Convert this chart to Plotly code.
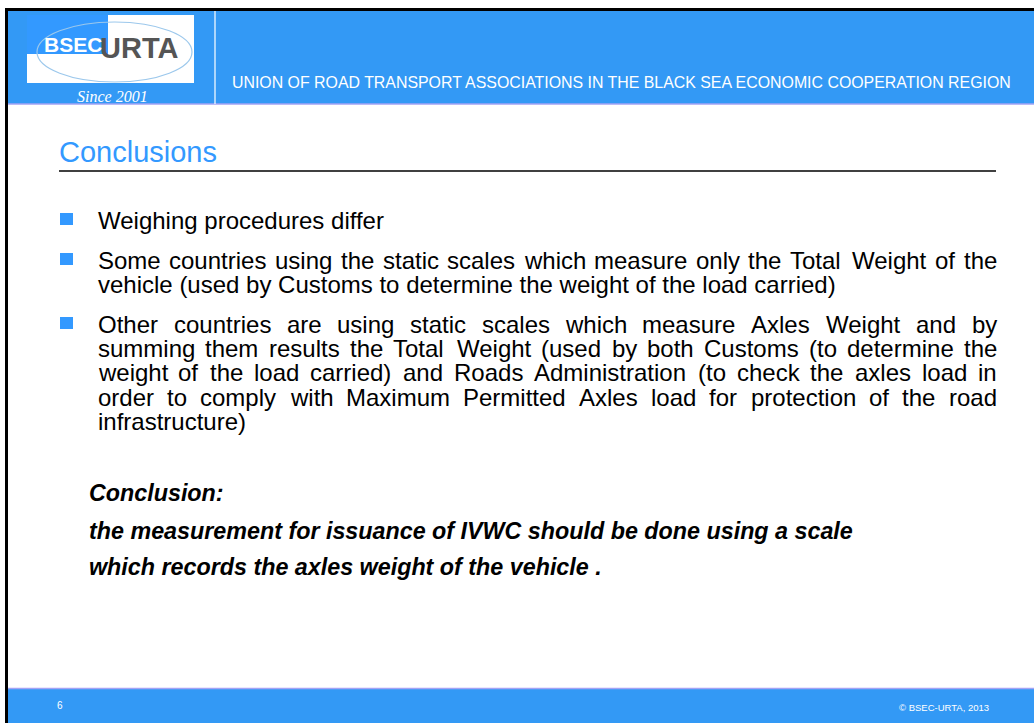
import plotly.graph_objects as go

# ---------------- content ----------------
header_text = "UNION OF ROAD TRANSPORT ASSOCIATIONS IN THE BLACK SEA ECONOMIC COOPERATION REGION"
logo_left = "BSEC"
logo_right = "URTA"
logo_since = "Since 2001"
slide_title = "Conclusions"
bullet_paragraphs = [
    ["Weighing procedures differ"],
    ["Some countries using the static scales which measure only the Total Weight of the",
     "vehicle (used by Customs to determine the weight of the load carried)"],
    ["Other countries are using static scales which measure Axles Weight and by",
     "summing them results the Total Weight (used by both Customs (to determine the",
     "weight of the load carried) and Roads Administration (to  check the axles load in",
     "order to comply with Maximum Permitted Axles load for protection of the road",
     "infrastructure)"],
]
conclusion_lines = [
    "Conclusion:",
    "the measurement for issuance of IVWC should be done using a scale",
    "which records the axles weight of the vehicle .",
]
page_number = "6"
copyright_text = "© BSEC-URTA, 2013"

# ---------------- layout constants ----------------
W, H = 1034, 723
BLUE = "#3399F5"
BULLET_BLUE = "#3399FF"
LAVENDER = "#A3A3F5"
SANS = "Liberation Sans, Arial, sans-serif"
SERIF = "Liberation Serif, Times New Roman, serif"

BODY_SIZE = 24
TEXT_LEFT = 97
TEXT_RIGHT = 996
BULLET_Y = [[220], [260, 284], [324, 348, 372, 397, 421]]
CONC_Y = [493, 531, 567]

# Arial / Liberation Sans advance widths (per 1000 em)
ARIAL = {' ': 278, '(': 333, ')': 333, ',': 278, '.': 278, ':': 278, '-': 333}
ARIAL.update(dict(zip("abcdefghijklmnopqrstuvwxyz",
                      [556, 556, 500, 556, 556, 278, 556, 556, 222, 222, 500, 222, 833,
                       556, 556, 556, 556, 333, 500, 278, 556, 500, 722, 500, 500, 500])))
ARIAL.update(dict(zip("ABCDEFGHIJKLMNOPQRSTUVWXYZ",
                      [667, 667, 722, 722, 667, 611, 778, 722, 278, 500, 667, 556, 833,
                       722, 778, 667, 778, 722, 667, 611, 722, 667, 944, 667, 667, 611])))


def text_width(s, size):
    return sum(ARIAL.get(c, 556) for c in s) * size / 1000.0


fig = go.Figure()
fig.add_trace(go.Scatter(x=[0], y=[0], mode="markers", marker=dict(opacity=0),
                         hoverinfo="skip", showlegend=False))

shapes = []
annotations = []


def rect(x0, y0, x1, y1, color):
    shapes.append(dict(type="rect", xref="x", yref="y", x0=x0, y0=y0, x1=x1, y1=y1,
                       fillcolor=color, line=dict(width=0, color=color), layer="below"))


def line(x0, y0, x1, y1, color, width):
    shapes.append(dict(type="line", xref="x", yref="y", x0=x0, y0=y0, x1=x1, y1=y1,
                       line=dict(color=color, width=width)))


def text(x, y, s, size, color="black", family=SANS, xanchor="left", bold=False, italic=False):
    t = s
    if bold:
        t = "<b>" + t + "</b>"
    if italic:
        t = "<i>" + t + "</i>"
    annotations.append(dict(x=x, y=y, xref="x", yref="y", text=t, showarrow=False,
                            xanchor=xanchor, yanchor="middle", borderpad=0,
                            font=dict(size=size, color=color, family=family)))


# frame
rect(5, 8, W, 11, "black")
rect(5, 8, 8, H, "black")
# header
rect(8, 11, W, 104, BLUE)
line(8, 104, W, 104, LAVENDER, 1.5)
line(215, 11, 215, 104, "white", 1.2)
# footer
rect(8, 689, W, H, BLUE)
line(8, 688.5, W, 688.5, LAVENDER, 1.5)

# logo
rect(27, 15, 194, 83, "white")
rect(27, 15, 108, 54, BULLET_BLUE)
shapes.append(dict(type="circle", xref="x", yref="y", x0=37, y0=22, x1=192, y1=82,
                   line=dict(color="#9CC8EC", width=1.2), fillcolor="rgba(0,0,0,0)",
                   layer="below"))
text(43, 44, logo_left, 21, color="white", bold=True)
text(99, 48, logo_right, 29, color="#555555", bold=True)
text(112, 96, logo_since, 16, color="white", family=SERIF, xanchor="center", italic=True)

# header text
text(231, 82, header_text, 15.9, color="white")

# title
text(58, 152, slide_title, 29, color=BULLET_BLUE)
line(59, 171, TEXT_RIGHT, 171, "black", 1.5)

# bullets
for para, ys in zip(bullet_paragraphs, BULLET_Y):
    by = ys[0] - 1
    rect(60, by - 6, 73, by + 6, BULLET_BLUE)
    n = len(para)
    for i, (ln, y) in enumerate(zip(para, ys)):
        if i < n - 1:
            words = ln.split()
            widths = [text_width(w, BODY_SIZE) for w in words]
            gap = (TEXT_RIGHT - TEXT_LEFT - sum(widths)) / (len(words) - 1)
            x = TEXT_LEFT
            for w, wd in zip(words, widths):
                text(x, y, w, BODY_SIZE)
                x += wd + gap
        else:
            text(TEXT_LEFT, y, ln, BODY_SIZE)

# conclusion
for ln, y in zip(conclusion_lines, CONC_Y):
    text(88, y, ln, 23.3, bold=True, italic=True)

# footer texts
text(56, 705, page_number, 10, color="white")
text(990, 707, copyright_text, 9.5, color="white", xanchor="right")

fig.update_layout(
    width=W, height=H, margin=dict(l=0, r=0, t=0, b=0),
    paper_bgcolor="white", plot_bgcolor="white",
    xaxis=dict(range=[0, W], visible=False, fixedrange=True),
    yaxis=dict(range=[H, 0], visible=False, fixedrange=True),
    shapes=shapes, annotations=annotations, showlegend=False,
)
fig.write_html("out.html", config={"displayModeBar": False},
               post_script="document.body.style.margin='0';document.body.style.overflow='hidden';")
